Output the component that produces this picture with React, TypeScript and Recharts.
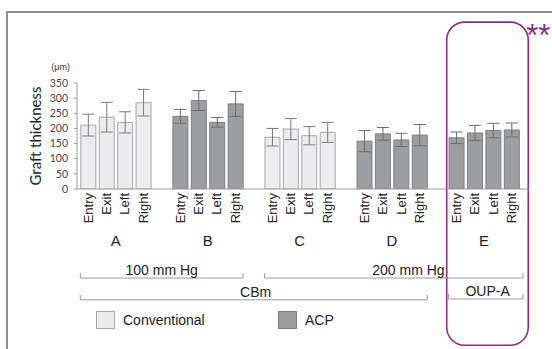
import { Bar, BarChart, ErrorBar, Label, Legend, ReferenceArea, ReferenceLine, XAxis, YAxis } from 'recharts';

// measured graft thickness (µm) per group, sites in order Entry / Exit / Left / Right
const sites = ['Entry', 'Exit', 'Left', 'Right'];
const groups = ['A', 'B', 'C', 'D', 'E'];
const groupKind = ['Conventional', 'ACP', 'Conventional', 'ACP', 'ACP'];
const thickness = [
  [211, 237, 220, 285],
  [240, 292, 220, 281],
  [171, 198, 176, 187],
  [158, 182, 162, 178],
  [169, 185, 193, 195]
];
const errors = [
  [36, 49, 35, 44],
  [23, 33, 16, 41],
  [29, 35, 30, 33],
  [35, 21, 22, 35],
  [19, 25, 24, 23]
];
const yTicks = [0, 50, 100, 150, 200, 250, 300, 350];
const legendOrder = ['Conventional', 'ACP'];

// bracket rows under the axis: slot ranges, y given in axis units below zero
const brackets = [
  { label: '100 mm Hg', from: 0, to: 8, textAt: 4, level: -294 },
  { label: '200 mm Hg', from: 10, to: 23.2, textAt: 17.4, level: -294 },
  { label: 'CBm', from: 0, to: 18, textAt: 9.1, level: -366 },
  { label: 'OUP-A', from: 20, to: 23.2, textAt: 21.7, level: -363 }
];

const kindStyle: Record<string, { fill: string; stroke: string }> = {
  Conventional: { fill: '#ececee', stroke: '#a6a7aa' },
  ACP: { fill: '#9c9ea2', stroke: '#7d7f83' }
};
const PURPLE = '#8c2a86';
const AXIS = '#9a9a9a';

const slotOf = (g: number, s: number) => g * 5 + s;

const data = groups.flatMap((_, g) =>
  sites.map((site, s) => {
    const conv = groupKind[g] === 'Conventional';
    return {
      slot: slotOf(g, s),
      site,
      conv: conv ? thickness[g][s] : null,
      convErr: conv ? errors[g][s] : null,
      acp: conv ? null : thickness[g][s],
      acpErr: conv ? null : errors[g][s]
    };
  })
);
const siteTicks = data.map((d) => d.slot);
const groupTicks = groups.map((_, g) => slotOf(g, 1.5));

function SiteTick({ x, y, payload }: any) {
  const row = data.find((d) => d.slot === payload.value);
  return (
    <text
      transform={`translate(${x + 4.5},${y + 2}) rotate(-90)`}
      textAnchor="end"
      fontSize={13}
      fill="#222"
    >
      {row ? row.site : ''}
    </text>
  );
}

function GroupTick({ x, y, payload }: any) {
  const i = groupTicks.indexOf(payload.value);
  return (
    <text x={x} y={y + 10} textAnchor="middle" fontSize={15} fill="#222">
      {groups[i]}
    </text>
  );
}

function Bracket(props: any) {
  const { x1, x2, y1, b } = props;
  const d0 = b.from - 0.42;
  const d1 = b.to + 0.42;
  const tx = x1 + ((b.textAt - d0) / (d1 - d0)) * (x2 - x1);
  return (
    <g>
      <path d={`M${x1},${y1 - 5}V${y1}H${x2}V${y1 - 5}`} fill="none" stroke={AXIS} strokeWidth={1} />
      <text x={tx} y={y1 - 3} textAnchor="middle" fontSize={14} fill="#222">
        {b.label}
      </text>
    </g>
  );
}

function HighlightBox(props: any) {
  const { x, y, width, height } = props;
  return (
    <g>
      <rect x={x} y={y} width={width} height={height} rx={18} fill="none" stroke={PURPLE} strokeWidth={1.6} />
      <text x={x + width - 2} y={y + 24} fontSize={31} fill={PURPLE}>
        **
      </text>
    </g>
  );
}

function UnitLabel({ viewBox }: any) {
  return (
    <text x={viewBox.x + viewBox.width - 7} y={viewBox.y - 13} textAnchor="end" fontSize={9} fill="#333">
      (μm)
    </text>
  );
}

function LegendContent({ payload }: any) {
  const items = legendOrder.map((k) => (payload || []).find((p: any) => p.value === k)).filter(Boolean);
  return (
    <div style={{ display: 'flex' }}>
      {items.map((p: any) => (
        <div key={p.value} style={{ width: 182, display: 'flex', alignItems: 'center' }}>
          <span
            style={{
              width: 17,
              height: 16,
              background: kindStyle[p.value].fill,
              border: `1px solid ${kindStyle[p.value].stroke}`
            }}
          />
          <span style={{ marginLeft: 8, fontSize: 14, color: '#222' }}>{p.value}</span>
        </div>
      ))}
    </div>
  );
}

export default function App() {
  return (
    <div
      style={{
        position: 'absolute',
        left: 0,
        top: 0,
        width: 552,
        height: 349,
        background: '#fff',
        fontFamily: '"Liberation Sans", Arial, sans-serif',
        overflow: 'hidden'
      }}
    >
      <div
        style={{
          position: 'absolute',
          left: 6,
          top: 11,
          right: 0,
          bottom: 0,
          borderTop: '2px solid #8e8e8e',
          borderLeft: '2px solid #8e8e8e'
        }}
      />
      <BarChart width={552} height={349} data={data} margin={{ top: 83, right: 23, left: 0, bottom: 85 }}>
        <XAxis
          dataKey="slot"
          type="number"
          domain={[-0.6, 23.95]}
          allowDataOverflow
          ticks={siteTicks}
          interval={0}
          tick={<SiteTick />}
          tickLine={false}
          tickSize={0}
          height={45}
          axisLine={{ stroke: AXIS }}
        />
        <XAxis
          xAxisId="group"
          dataKey="slot"
          type="number"
          domain={[-0.6, 23.95]}
          allowDataOverflow
          ticks={groupTicks}
          interval={0}
          tick={<GroupTick />}
          tickLine={false}
          tickSize={0}
          axisLine={false}
          height={30}
        />
        <YAxis
          domain={[0, 350]}
          ticks={yTicks}
          allowDataOverflow
          width={77}
          interval={0}
          tickSize={3}
          tickMargin={6}
          axisLine={{ stroke: AXIS }}
          tickLine={{ stroke: AXIS }}
          tick={{ fontSize: 10.5, fill: '#444', fontFamily: 'Lato, sans-serif' }}
        >
          <Label
            value="Graft thickness"
            angle={-90}
            position="center"
            dx={-3}
            style={{ fontSize: 15, fill: '#222', fontFamily: 'Lato, sans-serif' }}
          />
          <Label content={<UnitLabel />} />
        </YAxis>
        <Legend
          layout="vertical"
          align="center"
          verticalAlign="middle"
          wrapperStyle={{ left: 96, top: 311, width: 380 }}
          content={<LegendContent />}
        />
        <Bar
          dataKey="conv"
          name="Conventional"
          stackId="s"
          barSize={15}
          fill={kindStyle.Conventional.fill}
          stroke={kindStyle.Conventional.stroke}
          isAnimationActive={false}
        >
          <ErrorBar dataKey="convErr" width={6} stroke="#7a7a7a" strokeWidth={1} isAnimationActive={false} />
        </Bar>
        <Bar
          dataKey="acp"
          name="ACP"
          stackId="s"
          barSize={15}
          fill={kindStyle.ACP.fill}
          stroke={kindStyle.ACP.stroke}
          isAnimationActive={false}
        >
          <ErrorBar dataKey="acpErr" width={6} stroke="#6c6c6c" strokeWidth={1} isAnimationActive={false} />
        </Bar>
        {brackets.map((b) => (
          <ReferenceLine
            key={b.label}
            segment={[
              { x: b.from - 0.42, y: b.level },
              { x: b.to + 0.42, y: b.level }
            ]}
            ifOverflow="visible"
            shape={(p: any) => <Bracket {...p} b={b} />}
          />
        ))}
        <ReferenceArea x1={19.48} x2={23.91} y1={-516} y2={551} ifOverflow="visible" shape={<HighlightBox />} />
      </BarChart>
    </div>
  );
}
